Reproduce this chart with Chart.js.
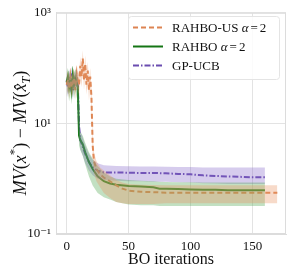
<!DOCTYPE html>
<html>
<head>
<meta charset="utf-8">
<script src="https://cdn.jsdelivr.net/npm/chart.js@4.4.0/dist/chart.umd.min.js"></script>
<style>
  html, body { margin: 0; padding: 0; background: #fff; }
  #wrap { width: 291px; height: 274px; }
</style>
</head>
<body>
<div id="wrap"><canvas id="mvChart" width="291" height="274"></canvas></div>
<script>
// ---- data ----
const xTicks = [0, 50, 100, 150];
const yTicks = [0.1, 10, 1000];
const yTickLabels = ['10\u207B\u00B9', '10\u00B9', '10\u00B3'];

// RAHBO-US alpha=2 (orange, dashed)
const usIters = [0, 1, 2, 3, 4, 5, 6, 7, 8, 9, 10, 11, 12, 13, 14, 15, 16, 17, 18, 19, 20, 21, 22, 24, 27, 30, 35, 40, 45, 50, 60, 70, 80, 100, 120, 140, 160, 170];
const usMean  = [50, 62, 42, 70, 45, 55, 66, 40, 80, 60, 50, 110, 70, 150, 60, 120, 50, 90, 40, 70, 30, 4.0, 2.1, 1.5, 1.2, 1.05, 0.9, 0.76, 0.66, 0.61, 0.58, 0.57, 0.56, 0.56, 0.56, 0.56, 0.56, 0.56];
const usUpper = [75, 90, 65, 100, 70, 80, 95, 60, 115, 90, 75, 160, 100, 210, 90, 170, 75, 130, 60, 100, 45, 6.0, 3.0, 2.1, 1.6, 1.4, 1.15, 0.95, 0.85, 0.8, 0.78, 0.77, 0.76, 0.76, 0.76, 0.76, 0.76, 0.76];
const usLower = [32, 40, 28, 45, 30, 36, 44, 27, 52, 40, 32, 70, 45, 100, 40, 80, 33, 60, 26, 46, 20, 2.6, 1.3, 0.9, 0.7, 0.55, 0.45, 0.38, 0.36, 0.35, 0.35, 0.35, 0.36, 0.36, 0.36, 0.36, 0.36, 0.36];

// RAHBO alpha=2 (green, solid)
const rbIters = [0, 1, 2, 3, 4, 5, 6, 7, 8, 9, 10, 11, 13, 15, 18, 21, 25, 30, 35, 40, 50, 60, 70, 75, 80, 90, 100, 110, 120, 130, 140, 150, 160];
const rbMean  = [55, 70, 45, 60, 40, 75, 50, 65, 55, 45, 6.0, 5.0, 4.2, 3.0, 2.0, 1.5, 1.1, 0.9, 0.82, 0.78, 0.74, 0.72, 0.7, 0.66, 0.66, 0.65, 0.64, 0.63, 0.63, 0.62, 0.62, 0.62, 0.62];
const rbUpper = [85, 100, 70, 90, 65, 105, 80, 95, 85, 70, 8.0, 7.0, 6.0, 4.4, 3.0, 2.3, 1.7, 1.3, 1.1, 1.0, 0.95, 0.92, 0.9, 0.88, 0.87, 0.86, 0.86, 0.85, 0.85, 0.85, 0.85, 0.85, 0.85];
const rbLower = [30, 40, 25, 35, 22, 42, 28, 38, 30, 25, 4.0, 3.3, 2.6, 1.8, 1.1, 0.75, 0.55, 0.46, 0.42, 0.38, 0.34, 0.33, 0.33, 0.32, 0.32, 0.32, 0.32, 0.32, 0.32, 0.32, 0.32, 0.32, 0.32];

// GP-UCB (purple, dash-dot)
const gpIters = [0, 1, 2, 3, 4, 5, 6, 7, 8, 9, 10, 11, 13, 15, 18, 21, 25, 30, 40, 50, 60, 70, 80, 90, 100, 110, 120, 130, 140, 150, 160];
const gpMean  = [60, 45, 70, 50, 80, 40, 65, 55, 70, 50, 9.0, 5.0, 3.8, 2.8, 2.0, 1.6, 1.4, 1.3, 1.3, 1.28, 1.27, 1.27, 1.25, 1.22, 1.2, 1.15, 1.12, 1.1, 1.08, 1.06, 1.06];
const gpUpper = [85, 65, 95, 72, 105, 60, 90, 78, 95, 72, 13, 7.5, 5.5, 4.0, 2.8, 2.2, 1.9, 1.75, 1.7, 1.68, 1.67, 1.66, 1.65, 1.63, 1.62, 1.6, 1.6, 1.6, 1.6, 1.6, 1.6];
const gpLower = [40, 30, 48, 34, 55, 27, 45, 37, 48, 34, 6.0, 3.4, 2.6, 1.9, 1.4, 1.15, 1.0, 0.95, 0.92, 0.9, 0.9, 0.88, 0.88, 0.86, 0.85, 0.83, 0.82, 0.8, 0.8, 0.8, 0.8];

const SERIF = '"Liberation Serif", "DejaVu Serif", serif';

function pts(xs, ys) {
  return xs.map((x, i) => ({ x: x, y: ys[i] }));
}

function band(xs, lo, hi, color) {
  return [
    { data: pts(xs, hi), borderWidth: 0, pointRadius: 0, fill: false, backgroundColor: color, isBand: true },
    { data: pts(xs, lo), borderWidth: 0, pointRadius: 0, fill: '-1', backgroundColor: color, isBand: true }
  ];
}

const series = [
  { label: 'RAHBO-US', alpha: true, color: '#dd8452', dash: [5, 3], band: 'rgba(232, 150, 100, 0.35)', xs: usIters, mean: usMean, lo: usLower, hi: usUpper },
  { label: 'RAHBO', alpha: true, color: '#147514', dash: [], band: 'rgba(80, 165, 80, 0.35)', xs: rbIters, mean: rbMean, lo: rbLower, hi: rbUpper },
  { label: 'GP-UCB', alpha: false, color: '#6a4cb0', dash: [6, 2, 1.5, 2], band: 'rgba(130, 100, 200, 0.33)', xs: gpIters, mean: gpMean, lo: gpLower, hi: gpUpper }
];

const datasets = [];
series.forEach(s => {
  band(s.xs, s.lo, s.hi, s.band).forEach(d => datasets.push(d));
});
series.forEach(s => {
  datasets.push({
    label: s.label,
    data: pts(s.xs, s.mean),
    borderColor: s.color,
    borderWidth: 2,
    borderDash: s.dash,
    pointRadius: 0,
    fill: false,
    tension: 0
  });
});

// axis titles, frame, legend
const decorPlugin = {
  id: 'decor',
  afterDraw(chart) {
    const ctx = chart.ctx;
    const a = chart.chartArea;
    ctx.save();

    // frame on all four sides
    ctx.strokeStyle = '#dcdcdc';
    ctx.lineWidth = 1;
    ctx.strokeRect(a.left + 0.5, a.top + 0.5, a.right - a.left - 1, a.bottom - a.top - 1);

    // x title
    ctx.fillStyle = '#111';
    ctx.font = '16px ' + SERIF;
    ctx.textAlign = 'center';
    ctx.textBaseline = 'alphabetic';
    ctx.fillText('BO iterations', (a.left + a.right) / 2, 264);

    // y title, rotated
    const it = 'italic 18px ' + SERIF;
    const rm = '18px ' + SERIF;
    const sm = 'italic 12px ' + SERIF;
    const parts = [
      { t: 'MV', f: it }, { t: '(', f: rm }, { t: 'x', f: it }, { t: '*', f: '13px ' + SERIF, dy: -8 },
      { t: ')', f: rm }, { t: ' \u2212 ', f: rm }, { t: 'MV', f: it }, { t: '(', f: rm },
      { t: 'x\u0302', f: it }, { t: 'T', f: sm, dy: 4 }, { t: ')', f: rm }
    ];
    let total = 0;
    parts.forEach(p => { ctx.font = p.f; p.w = ctx.measureText(p.t).width; total += p.w; });
    ctx.translate(26, 133);
    ctx.rotate(-Math.PI / 2);
    ctx.textAlign = 'left';
    let px = -total / 2;
    parts.forEach(p => {
      ctx.font = p.f;
      ctx.fillText(p.t, px, p.dy || 0);
      px += p.w;
    });
    ctx.setTransform(1, 0, 0, 1, 0, 0);

    // legend
    const lx = 128, ly = 16, lw = 151, lh = 63;
    ctx.fillStyle = 'rgba(255,255,255,0.85)';
    ctx.strokeStyle = '#e4e4e4';
    ctx.beginPath();
    ctx.roundRect(lx + 0.5, ly + 0.5, lw, lh, 3);
    ctx.fill();
    ctx.stroke();
    const rows = [27.5, 46.5, 65.5];
    series.forEach((s, i) => {
      const y = rows[i];
      ctx.strokeStyle = s.color;
      ctx.lineWidth = 2;
      ctx.setLineDash(s.dash);
      ctx.beginPath();
      ctx.moveTo(133, y);
      ctx.lineTo(163, y);
      ctx.stroke();
      ctx.setLineDash([]);
      ctx.fillStyle = '#111';
      ctx.textBaseline = 'middle';
      ctx.textAlign = 'left';
      let tx = 172;
      ctx.font = '13px ' + SERIF;
      const head = s.alpha ? s.label + ' ' : s.label;
      ctx.fillText(head, tx, y + 1);
      tx += ctx.measureText(head).width;
      if (s.alpha) {
        ctx.font = 'italic 13px ' + SERIF;
        ctx.fillText('\u03B1', tx, y + 1);
        tx += ctx.measureText('\u03B1').width + 2;
        ctx.font = '13px ' + SERIF;
        ctx.fillText('=', tx, y + 1);
        tx += ctx.measureText('=').width + 2;
        ctx.fillText('2', tx, y + 1);
      }
    });
    ctx.restore();
  }
};

new Chart(document.getElementById('mvChart'), {
  type: 'line',
  data: { datasets: datasets },
  options: {
    responsive: false,
    animation: false,
    layout: { padding: { top: 10, right: 5, left: 0, bottom: 0 } },
    plugins: {
      legend: { display: false },
      tooltip: { enabled: false },
      filler: { propagate: false }
    },
    scales: {
      x: {
        type: 'linear',
        min: -8.6,
        max: 177,
        afterBuildTicks: axis => { axis.ticks = xTicks.map(v => ({ value: v })); },
        afterFit: axis => { axis.height = 40; },
        grid: { color: '#e3e3e3', drawTicks: false },
        border: { color: '#dcdcdc' },
        ticks: { color: '#111', padding: 5, font: { family: SERIF, size: 13 }, maxRotation: 0 }
      },
      y: {
        type: 'logarithmic',
        min: 0.1,
        max: 1000,
        afterBuildTicks: axis => { axis.ticks = yTicks.map(v => ({ value: v })); },
        afterFit: axis => { axis.width = 56; },
        grid: { color: '#e3e3e3', drawTicks: false },
        border: { color: '#dcdcdc' },
        ticks: {
          color: '#111',
          padding: 5,
          font: { family: SERIF, size: 13 },
          callback: value => {
            const i = yTicks.indexOf(value);
            return i >= 0 ? yTickLabels[i] : '';
          }
        }
      }
    }
  },
  plugins: [decorPlugin]
});
</script>
</body>
</html>
